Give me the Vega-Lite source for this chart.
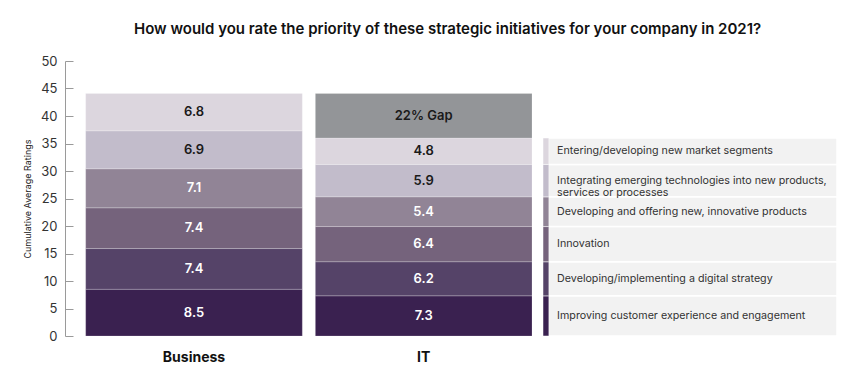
{
  "$schema": "https://vega.github.io/schema/vega-lite/v6.json",
  "padding": {"left": 23, "top": 22, "right": 5, "bottom": 5},
  "background": "white",
  "title": {
    "text": "How would you rate the priority of these strategic initiatives for your company in 2021?",
    "font": "Inter", "fontSize": 15, "fontWeight": 600, "color": "#111111",
    "anchor": "middle", "offset": 18, "dx": 17
  },
  "config": {
    "view": {"stroke": null},
    "font": "Inter",
    "concat": {"spacing": 9}
  },
  "datasets": {
    "ratings": [
      {"group": "Business", "initiative": "Improving customer experience and engagement", "order": 1, "value": 8.5, "label": "8.5"},
      {"group": "Business", "initiative": "Developing/implementing a digital strategy", "order": 2, "value": 7.4, "label": "7.4"},
      {"group": "Business", "initiative": "Innovation", "order": 3, "value": 7.4, "label": "7.4"},
      {"group": "Business", "initiative": "Developing and offering new, innovative products", "order": 4, "value": 7.1, "label": "7.1"},
      {"group": "Business", "initiative": "Integrating emerging technologies into new products,\nservices or processes", "order": 5, "value": 6.9, "label": "6.9"},
      {"group": "Business", "initiative": "Entering/developing new market segments", "order": 6, "value": 6.8, "label": "6.8"},
      {"group": "IT", "initiative": "Improving customer experience and engagement", "order": 1, "value": 7.3, "label": "7.3"},
      {"group": "IT", "initiative": "Developing/implementing a digital strategy", "order": 2, "value": 6.2, "label": "6.2"},
      {"group": "IT", "initiative": "Innovation", "order": 3, "value": 6.4, "label": "6.4"},
      {"group": "IT", "initiative": "Developing and offering new, innovative products", "order": 4, "value": 5.4, "label": "5.4"},
      {"group": "IT", "initiative": "Integrating emerging technologies into new products,\nservices or processes", "order": 5, "value": 5.9, "label": "5.9"},
      {"group": "IT", "initiative": "Entering/developing new market segments", "order": 6, "value": 4.8, "label": "4.8"},
      {"group": "IT", "initiative": "Gap", "order": 7, "value": 8.1, "label": "22% Gap"}
    ]
  },
  "hconcat": [
    {
      "width": 467,
      "height": 275,
      "data": {"name": "ratings"},
      "transform": [
        {"stack": "value", "groupby": ["group"], "sort": [{"field": "order"}], "as": ["y0", "y1"]},
        {"calculate": "(datum.y0 + datum.y1) / 2", "as": "mid"}
      ],
      "encoding": {
        "x": {
          "field": "group", "type": "nominal", "title": null,
          "scale": {"paddingInner": 0.0568, "paddingOuter": 0.045, "align": 1},
          "axis": {"domain": false, "ticks": false, "labelAngle": 0, "labelFontSize": 14, "labelFontWeight": 700, "labelColor": "#111111", "labelPadding": 14}
        }
      },
      "resolve": {"axis": {"y": "independent"}},
      "layer": [
        {
          "mark": {"type": "bar", "stroke": "white", "strokeWidth": 0.4, "strokeOpacity": 0.5},
          "encoding": {
            "y": {
              "field": "y0", "type": "quantitative",
              "scale": {"domain": [0, 50]},
              "title": "Cumulative Average Ratings",
              "axis": {
                "values": [0, 5, 10, 15, 20, 25, 30, 35, 40, 45, 50],
                "labelOverlap": false,
                "grid": false, "domainColor": "#9a9a9a", "ticks": false,
                "labelFontSize": 13, "labelColor": "#333333", "labelPadding": 8,
                "titleFontSize": 9, "titleFontWeight": 400, "titleColor": "#222222", "titlePadding": 8
              }
            },
            "y2": {"field": "y1"},
            "color": {
              "field": "order", "type": "ordinal", "legend": null,
              "scale": {"domain": [1, 2, 3, 4, 5, 6, 7], "range": ["#3a2150", "#554368", "#75637c", "#918496", "#c2bccb", "#dcd6de", "#939598"]}
            }
          }
        },
        {
          "mark": {"type": "text", "fontSize": 13, "fontWeight": 600},
          "encoding": {
            "y": {
              "field": "mid", "type": "quantitative", "title": null,
              "axis": {
                "orient": "right", "offset": -467,
                "values": [0, 5, 10, 15, 20, 25, 30, 35, 40, 45, 50],
                "labels": false, "domain": false, "grid": false,
                "ticks": true, "tickSize": 8, "tickColor": "#9a9a9a"
              }
            },
            "text": {"field": "label"},
            "color": {"condition": {"test": "datum.order >= 5", "value": "#1a1a1a"}, "value": "#ffffff"}
          }
        }
      ]
    },
    {
      "width": 294,
      "height": 275,
      "data": {"name": "ratings"},
      "transform": [
        {"filter": "datum.group === 'IT' && datum.order <= 6"},
        {"stack": "value", "groupby": ["group"], "sort": [{"field": "order"}], "as": ["y0", "y1"]},
        {"calculate": "(datum.y0 + datum.y1) / 2", "as": "mid"}
      ],
      "layer": [
        {
          "mark": {"type": "rect", "color": "#f2f2f2", "stroke": "white", "strokeWidth": 1.5},
          "encoding": {
            "x": {"datum": 0, "type": "quantitative", "scale": {"domain": [0, 100]}, "axis": null},
            "x2": {"datum": 100},
            "y": {"field": "y0", "type": "quantitative", "scale": {"domain": [0, 50]}, "axis": null},
            "y2": {"field": "y1"}
          }
        },
        {
          "mark": {"type": "rect", "stroke": "white", "strokeWidth": 0.5},
          "encoding": {
            "x": {"datum": 0, "type": "quantitative"},
            "x2": {"datum": 2},
            "y": {"field": "y0", "type": "quantitative"},
            "y2": {"field": "y1"},
            "color": {
              "field": "order", "type": "ordinal", "legend": null,
              "scale": {"domain": [1, 2, 3, 4, 5, 6, 7], "range": ["#3a2150", "#554368", "#75637c", "#918496", "#c2bccb", "#dcd6de", "#939598"]}
            }
          }
        },
        {
          "mark": {"type": "text", "align": "left", "baseline": "middle", "fontSize": 10.7, "color": "#333333", "lineBreak": "\n", "lineHeight": 12},
          "encoding": {
            "x": {"datum": 4.8, "type": "quantitative"},
            "y": {"field": "mid", "type": "quantitative"},
            "text": {"field": "initiative"}
          }
        }
      ]
    }
  ]
}
